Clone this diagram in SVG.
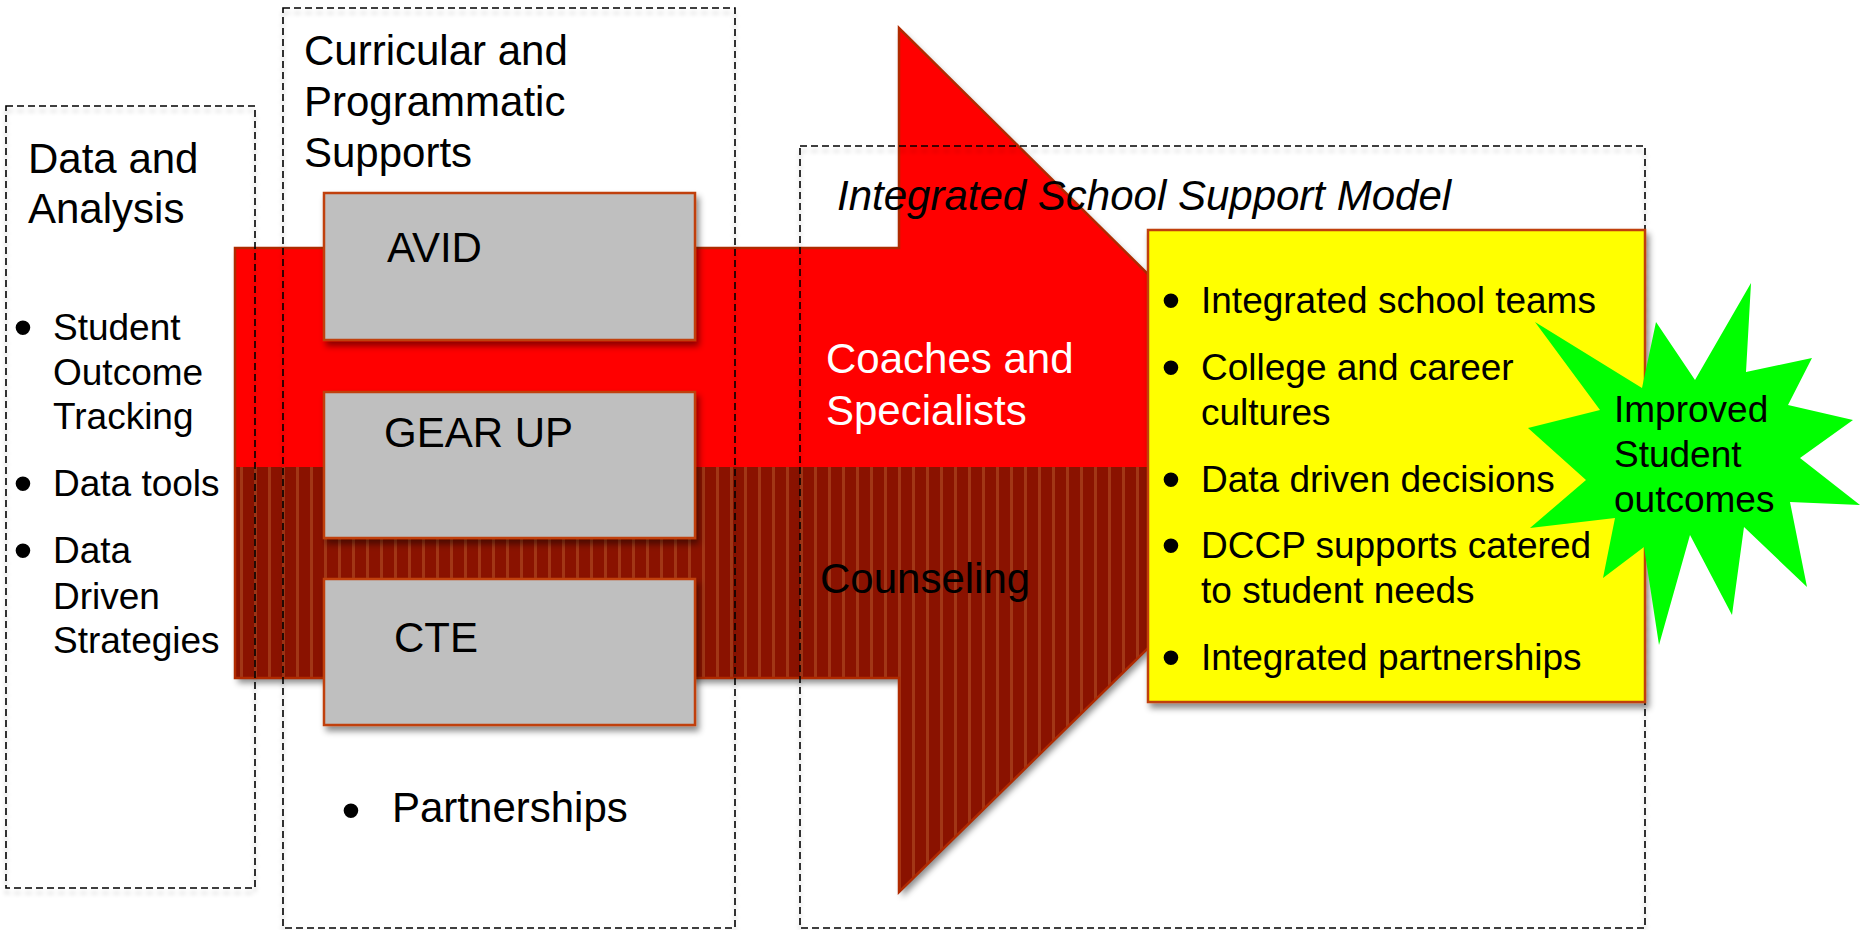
<svg xmlns="http://www.w3.org/2000/svg" width="1862" height="930" viewBox="0 0 1862 930">
<style>
.t{font-family:"Liberation Sans",Arial,sans-serif;fill:#000}
.h{font-size:42px}
.b{font-size:37px}
.bul{font-family:"Liberation Sans",Arial,sans-serif;font-size:54px;fill:#000;text-anchor:middle}
.dash{fill:none;stroke:#000;stroke-width:1.6;stroke-dasharray:7 4}
.gray{fill:#BFBFBF;stroke:#C0400C;stroke-width:2.5}
</style>
<defs>
<pattern id="stripes" x="0" y="0" width="14" height="20" patternUnits="userSpaceOnUse">
<rect width="14" height="20" fill="#8A1200"/>
<rect x="2" width="3" height="20" fill="#A23616"/>
</pattern>
<filter id="sh" x="-10%" y="-10%" width="130%" height="130%">
<feDropShadow dx="3" dy="5" stdDeviation="3" flood-color="#000" flood-opacity="0.45"/>
</filter>
<filter id="shd" x="-5%" y="-5%" width="110%" height="110%">
<feDropShadow dx="0" dy="5" stdDeviation="2" flood-color="#000" flood-opacity="0.2"/>
</filter>
<clipPath id="arrowClip">
<path d="M235,248 H899 V28 L1338,462 L899,892 V678 H235 Z"/>
</clipPath>
</defs>

<g id="arrow">
<g filter="url(#sh)">
<path d="M235,248 H899 V28 L1338,462 L899,892 V678 H235 Z" fill="#FF0000"/>
</g>
<rect x="230" y="467" width="1120" height="430" fill="url(#stripes)" clip-path="url(#arrowClip)"/>
<path d="M235,248 H899 V28 L1338,462 L899,892 V678 H235 Z" fill="none" stroke="#B02A00" stroke-width="2.5"/>
<text class="t h" x="826" y="373" style="fill:#fff">Coaches and</text>
<text class="t h" x="826" y="425" style="fill:#fff">Specialists</text>
<text class="t h" x="820" y="593">Counseling</text>
</g>

<g id="data-analysis">
<rect class="dash" x="6" y="106" width="249" height="782" filter="url(#shd)"/>
<text class="t h" x="28" y="173">Data and</text>
<text class="t h" x="28" y="223">Analysis</text>
<text class="bul" x="23" y="346">•</text>
<text class="bul" x="23" y="502">•</text>
<text class="bul" x="23" y="569">•</text>
<g class="t b">
<text x="53" y="340">Student</text>
<text x="53" y="385">Outcome</text>
<text x="53" y="429">Tracking</text>
<text x="53" y="496">Data tools</text>
<text x="53" y="563">Data</text>
<text x="53" y="609">Driven</text>
<text x="53" y="653">Strategies</text>
</g>
</g>

<g id="curricular">
<rect class="dash" x="283" y="8" width="452" height="920" filter="url(#shd)"/>
<text class="t h" x="304" y="65">Curricular and</text>
<text class="t h" x="304" y="116">Programmatic</text>
<text class="t h" x="304" y="167">Supports</text>
<text class="bul" x="351" y="829">•</text>
<text class="t h" x="392" y="822">Partnerships</text>
</g>

<g id="avid">
<rect class="gray" x="324" y="193" width="371" height="147" filter="url(#sh)"/>
<text class="t h" x="387" y="262">AVID</text>
</g>
<g id="gearup">
<rect class="gray" x="324" y="392" width="371" height="146" filter="url(#sh)"/>
<text class="t h" x="384" y="447">GEAR UP</text>
</g>
<g id="cte">
<rect class="gray" x="324" y="579" width="371" height="146" filter="url(#sh)"/>
<text class="t h" x="394" y="652">CTE</text>
</g>

<g id="integrated-model">
<rect class="dash" x="800" y="146" width="845" height="782" filter="url(#shd)"/>
<text class="t h" x="837" y="210" font-style="italic">Integrated School Support Model</text>
</g>

<g id="outcomes-box">
<rect x="1148" y="230" width="497" height="472" fill="#FFFF00" stroke="#C0400C" stroke-width="2.5" filter="url(#sh)"/>
<text class="bul" x="1171" y="319">•</text>
<text class="bul" x="1171" y="386">•</text>
<text class="bul" x="1171" y="498">•</text>
<text class="bul" x="1171" y="564">•</text>
<text class="bul" x="1171" y="676">•</text>
<g class="t b">
<text x="1201" y="313">Integrated school teams</text>
<text x="1201" y="380">College and career</text>
<text x="1201" y="425">cultures</text>
<text x="1201" y="492">Data driven decisions</text>
<text x="1201" y="558">DCCP supports catered</text>
<text x="1201" y="603">to student needs</text>
<text x="1201" y="670">Integrated partnerships</text>
</g>
</g>

<g id="improved-outcomes">
<polygon fill="#00FF00" points="1751,283 1746,372 1812,358 1788,405 1853,420 1800,458 1860,505 1790,502 1807,587 1744,527 1732,615 1690,535 1659,645 1644,547 1603,578 1615,518 1530,528 1586,480 1528,428 1600,410 1535,322 1642,388 1656,322 1695,380"/>
<text class="t b" x="1614" y="422">Improved</text>
<text class="t b" x="1614" y="467">Student</text>
<text class="t b" x="1614" y="512">outcomes</text>
</g>

<g id="connectors"></g>
</svg>
